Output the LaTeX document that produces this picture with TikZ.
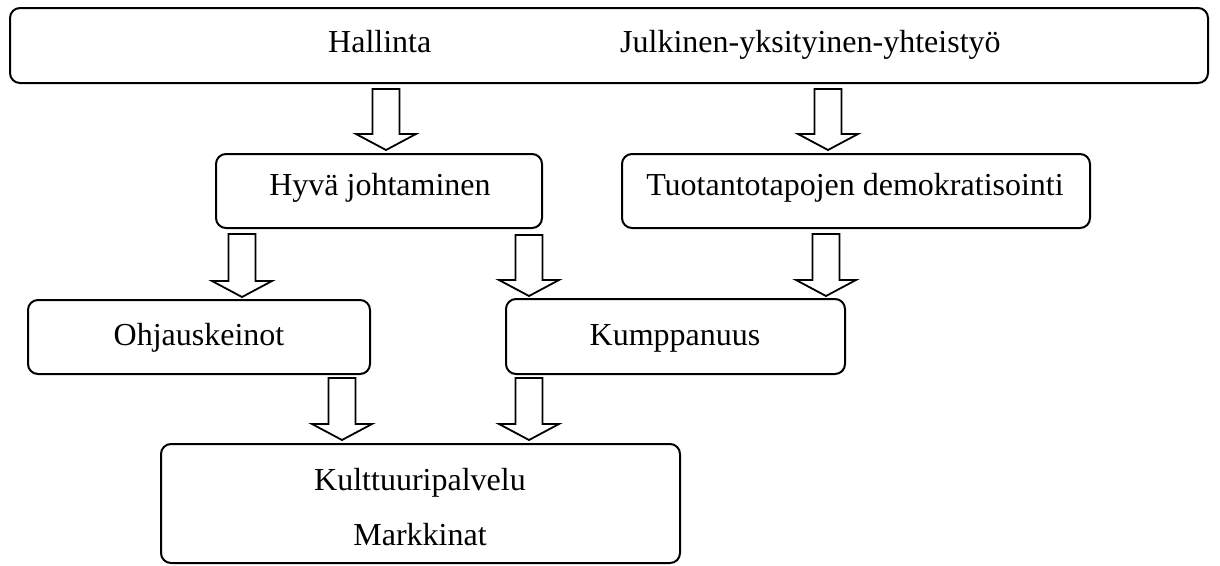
\documentclass[tikz,border=0pt]{standalone}
\usepackage{fontspec}
\setmainfont{Liberation Serif}
\newcommand\blockarr[3]{% center x, top y, tip y
  \draw[barrow] (#1-13.5,#2) -- (#1+13.5,#2) -- (#1+13.5,#3-16) -- (#1+30,#3-16)
    -- (#1,#3) -- (#1-30,#3-16) -- (#1-13.5,#3-16) -- cycle;}
\begin{document}
\begin{tikzpicture}[x=1pt,y=-1pt,
  box/.style={draw,line width=2pt,rounded corners=10pt,fill=none},
  lbl/.style={font=\fontsize{32}{38}\selectfont,inner sep=0pt,anchor=base},
  barrow/.style={draw,line width=1.8pt,fill=white,line join=miter}]
\useasboundingbox (0,0) rectangle (1220,565);
% boxes
\draw[box] (10,8) rectangle (1208,83);
\node[lbl,anchor=base west] (hal) at (328,52) {Hallinta};
\node[lbl,anchor=base west] (jul) at (620,52) {Julkinen-yksityinen-yhteistyö};
\draw[box] (216,154) rectangle (542,228);
\node[lbl] (hyv) at (380,195) {Hyvä johtaminen};
\draw[box] (622,154) rectangle (1090,228);
\node[lbl] (tuo) at (855,195) {Tuotantotapojen demokratisointi};
\draw[box] (28,300) rectangle (370,374);
\node[lbl] (ohj) at (199,345) {Ohjauskeinot};
\draw[box] (506,299) rectangle (845,374);
\node[lbl] (kum) at (675,345) {Kumppanuus};
\draw[box] (161,444) rectangle (680,563);
\node[lbl] (kul) at (420,490) {Kulttuuripalvelu};
\node[lbl] (mar) at (420,545) {Markkinat};
% arrows
\blockarr{386}{89}{150}
\blockarr{828}{89}{150}
\blockarr{242}{234}{297}
\blockarr{529}{235}{296}
\blockarr{826}{234}{296}
\blockarr{342}{378}{440}
\blockarr{529}{378}{440}
\end{tikzpicture}
\end{document}
